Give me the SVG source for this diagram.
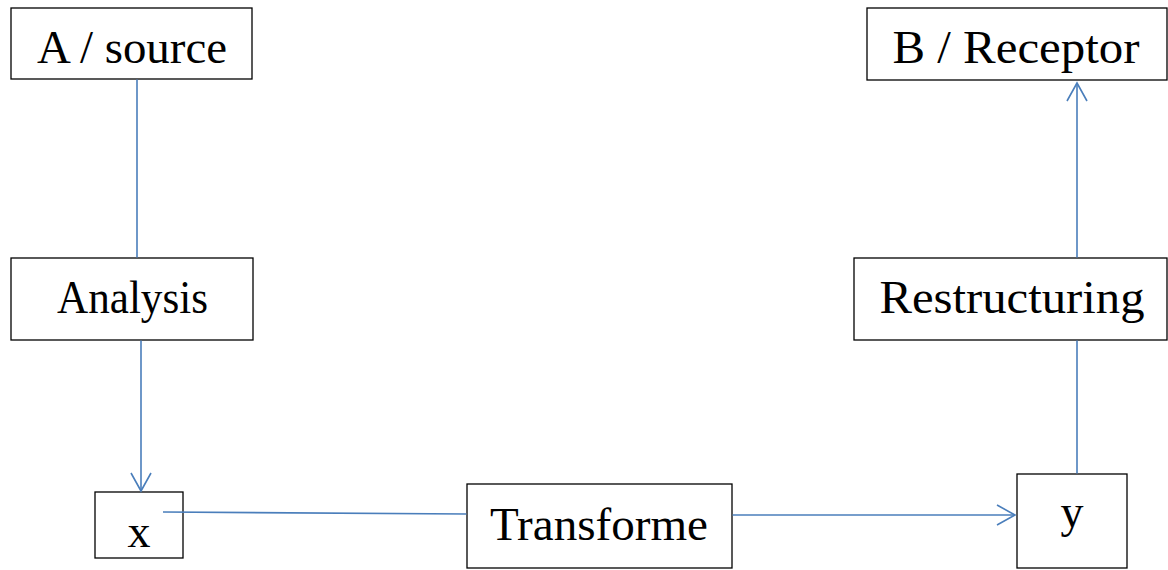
<svg xmlns="http://www.w3.org/2000/svg" width="1168" height="570" viewBox="0 0 1168 570">
<style>
.box{fill:#fff;stroke:#000;stroke-width:1.3}
.t{font-family:"Liberation Serif","Times New Roman",serif;font-size:46px;fill:#000;text-anchor:middle}
.c{stroke:#4a7ebb;stroke-width:1.6;fill:none}
</style>
<defs>
<marker id="ah" viewBox="0 0 22 22" refX="20" refY="11" markerWidth="22" markerHeight="22" markerUnits="userSpaceOnUse" orient="auto">
<path d="M2,1 L20,11 L2,21" fill="none" stroke="#4a7ebb" stroke-width="1.6"/>
</marker>
</defs>
<g id="source">
<rect class="box" x="11" y="8" width="241" height="71"/>
<text class="t" x="132" y="63" textLength="190" lengthAdjust="spacingAndGlyphs">A / source</text>
</g>
<g id="analysis">
<rect class="box" x="11" y="258" width="242" height="82"/>
<text class="t" x="132.5" y="313" textLength="151" lengthAdjust="spacingAndGlyphs">Analysis</text>
</g>
<g id="x">
<rect class="box" x="95" y="492" width="88" height="66"/>
<text class="t" x="139" y="547">x</text>
</g>
<g id="transforme">
<rect class="box" x="467" y="484" width="265" height="84"/>
<text class="t" x="599" y="540" textLength="218" lengthAdjust="spacingAndGlyphs">Transforme</text>
</g>
<g id="y">
<rect class="box" x="1017" y="474" width="110" height="94"/>
<text class="t" x="1072" y="527">y</text>
</g>
<g id="restructuring">
<rect class="box" x="854" y="258" width="313" height="82"/>
<text class="t" x="1012" y="313" textLength="265" lengthAdjust="spacingAndGlyphs">Restructuring</text>
</g>
<g id="receptor">
<rect class="box" x="867" y="8" width="300" height="72"/>
<text class="t" x="1016" y="63" textLength="247" lengthAdjust="spacingAndGlyphs">B / Receptor</text>
</g>
<g id="connectors">
<line class="c" x1="137" y1="79.6" x2="137" y2="257.4"/>
<line class="c" x1="141" y1="340.6" x2="141" y2="491" marker-end="url(#ah)"/>
<line class="c" x1="163" y1="512" x2="466.4" y2="514"/>
<line class="c" x1="732.6" y1="515" x2="1015" y2="515" marker-end="url(#ah)"/>
<line class="c" x1="1077" y1="473.4" x2="1077" y2="340.6"/>
<line class="c" x1="1077" y1="257.4" x2="1077" y2="83" marker-end="url(#ah)"/>
</g>
</svg>
